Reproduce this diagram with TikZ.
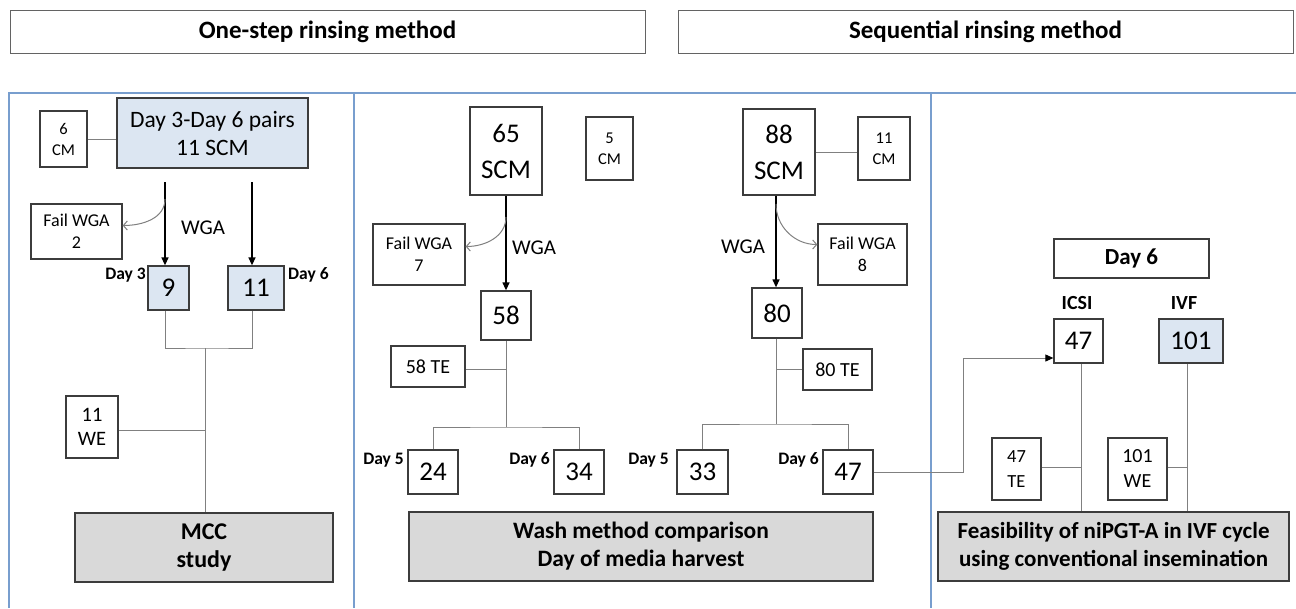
\documentclass[tikz,border=0pt]{standalone}
\usepackage{fontspec}
\setmainfont{Carlito}
\usetikzlibrary{arrows.meta}
\definecolor{panelc}{RGB}{120,158,206}
\definecolor{bluef}{RGB}{220,230,242}
\definecolor{grayf}{RGB}{217,217,217}
\definecolor{boxc}{RGB}{60,60,60}
\definecolor{linec}{RGB}{128,128,128}
\begin{document}
\begin{tikzpicture}[x=1pt,y=-1pt,
  box/.style={draw=boxc,line width=1.3pt,inner sep=0pt,align=center,fill=white},
  sz/.style 2 args={minimum width=#1pt,minimum height=#2pt},
  fs/.style 2 args={font=\fontsize{#1}{#2}\selectfont},
  fb/.style 2 args={font=\fontsize{#1}{#2}\selectfont\bfseries},
  conn/.style={draw=linec,line width=1pt},
  arr/.style={draw=black,line width=1.3pt,-{Triangle[length=8pt,width=7pt]}},
  carr/.style={draw=linec,line width=1pt,-{Straight Barb[length=4pt,width=9pt]}},
  daylbl/.style={fb={17.5}{20},inner sep=1pt},
  panel/.style={draw=panelc,line width=2pt}]
\useasboundingbox (0,0) rectangle (1296,608);
% panels
\draw[panel] (9,608) -- (9,93) -- (1296,93);
\draw[panel] (354,93) -- (354,608);
\draw[panel] (931,93) -- (931,608);
% headers
\node[box,draw=boxc!80,line width=1pt,sz={635}{43},fb={25}{28}] (h1) at (327.5,31.5) {One-step rinsing method};
\node[box,draw=boxc!80,line width=1pt,sz={615}{43},fb={25}{28}] (h2) at (985.5,31.5) {Sequential rinsing method};
% ---------- left panel
\node[box,sz={47}{56},fs={16.5}{21}] (cm6) at (63.5,139) {6\\CM};
\node[box,fill=bluef,sz={191}{70},fs={23.5}{28}] (pairs) at (212.5,133) {Day 3-Day 6 pairs\\11 SCM};
\draw[conn] (cm6.east) -- (cm6.east -| pairs.west);
\node[box,sz={91}{55},fs={18}{22}] (fail2) at (76.5,231.5) {Fail WGA\\2};
\node[box,fill=bluef,sz={41}{44},fs={27}{30}] (b9) at (168.5,288) {9};
\node[box,fill=bluef,sz={56}{44},fs={27}{30}] (b11) at (256,288) {11};
\coordinate (a9) at (165,182);
\coordinate (a11) at (252,182);
\draw[arr] (a9) -- (a9 |- b9.north);
\draw[arr] (a11) -- (a11 |- b11.north);
\coordinate (c2) at (165,199);
\draw[carr] (c2) to[out=-90,in=0] ([yshift=6pt]fail2.east);
\node[daylbl,anchor=east] (d3) at (147,275) {Day 3};
\node[daylbl,anchor=west] (d6a) at (287,275) {Day 6};
\node[fs={21}{24}] (wga1) at (203,228) {WGA};
\coordinate (j1) at (205,348);
\draw[conn] ([xshift=-3.5pt]b9.south) |- (j1) -| ([xshift=-4pt]b11.south);
\node[box,fill=grayf,sz={258}{69},fb={24}{28}] (mcc) at (204,547.5) {MCC\\study};
\draw[conn] (j1) -- (j1 |- mcc.north);
\node[box,sz={52}{62},fs={20.5}{24}] (we11) at (92,427) {11\\WE};
\draw[conn] ([yshift=-3pt]we11.east) -- ([yshift=-3pt]we11.east -| j1);
% ---------- middle panel
\node[box,sz={72}{88},fs={27}{36}] (s65) at (506,151) {65\\SCM};
\node[box,sz={47}{63},fs={16.5}{21}] (cm5) at (609.5,148.5) {5\\CM};
\node[box,sz={92}{61},fs={18}{22}] (fail7) at (419,254.5) {Fail WGA\\7};
\node[box,sz={50}{49},fs={27}{30}] (b58) at (506,315.5) {58};
\draw[arr] (s65.south) -- (b58.north);
\coordinate (c7) at (506,217);
\draw[carr] (c7) to[out=-90,in=0] ([yshift=8pt]fail7.east);
\node[fs={21}{24}] (wga2) at (534,248) {WGA};
\node[box,sz={74}{41},fs={20}{24}] (te58) at (428,366.5) {58 TE};
\coordinate (j2) at (506,427);
\draw[conn] (b58.south) -- (j2);
\draw[conn] ([yshift=-3pt]te58.east) -- ([yshift=-3pt]te58.east -| b58.south);
\node[box,sz={50}{44},fs={27}{30}] (b24) at (433,472) {24};
\node[box,sz={50}{44},fs={27}{30}] (b34) at (579,472) {34};
\draw[conn] (b24.north) |- (j2) -| (b34.north);
\node[daylbl,anchor=east] (d5a) at (405,460) {Day 5};
\node[daylbl,anchor=east] (d6b) at (551,460) {Day 6};
\node[box,sz={72}{86},fs={27}{36}] (s88) at (779,152) {88\\SCM};
\node[box,sz={52}{63},fs={16.5}{21}] (cm11) at (884,148.5) {11\\CM};
\draw[conn] (s88.east) -- (s88.east -| cm11.west);
\node[box,sz={89}{61},fs={18}{22}] (fail8) at (862.5,254.5) {Fail WGA\\8};
\node[box,sz={50}{50},fs={27}{30}] (b80) at (777,313) {80};
\draw[arr] ([xshift=-3pt]s88.south) -- ([xshift=-1pt]b80.north);
\coordinate (c8) at (776,204);
\draw[carr] (c8) to[out=-90,in=180] ([yshift=10pt]fail8.west);
\node[fs={21}{24}] (wga3) at (743,247) {WGA};
\node[box,sz={69}{41},fs={20}{24}] (te80) at (837.5,369.5) {80 TE};
\coordinate (j3) at (776,424);
\draw[conn] ([xshift=-1pt]b80.south) -- (j3);
\draw[conn] (te80.west) -- (te80.west -| j3);
\node[box,sz={51}{44},fs={27}{30}] (b33) at (702.5,472) {33};
\node[box,sz={50}{44},fs={27}{30}] (b47) at (848,472) {47};
\draw[conn] (b33.north) |- (j3) -| (b47.north);
\node[daylbl,anchor=east] (d5b) at (670,460) {Day 5};
\node[daylbl,anchor=east] (d6c) at (820,460) {Day 6};
\node[box,fill=grayf,sz={464}{69},fb={23.5}{28}] (wash) at (641,546.5) {Wash method comparison\\Day of media harvest};
% ---------- right panel
\node[box,sz={155}{39},fb={23}{26}] (day6) at (1131.5,258.5) {Day 6};
\node[fb={20}{22}] (icsi) at (1077,303) {ICSI};
\node[fb={20}{22}] (ivf) at (1184,303) {IVF};
\node[box,sz={49}{44},fs={27}{30}] (i47) at (1078.5,341) {47};
\node[box,fill=bluef,sz={64}{44},fs={27}{30}] (v101) at (1191,341) {101};
\coordinate (k1) at (963,358);
\draw[conn,-{Triangle[length=8pt,width=7pt,color=black]}] (b47.east) -| (k1) -- (k1 -| i47.west);
\node[box,sz={49}{62},fs={18.5}{25}] (te47) at (1016.5,469) {47\\TE};
\node[box,sz={59}{62},fs={20}{25}] (we101) at (1137.5,469) {101\\WE};
\node[box,fill=grayf,sz={351}{69},fb={23}{28}] (feas) at (1113.5,546.5) {Feasibility of niPGT-A in IVF cycle\\using conventional insemination};
\coordinate (v1) at ([xshift=2.5pt]i47.south);
\coordinate (v2) at ([xshift=-4pt]v101.south);
\draw[conn] (v1) -- (v1 |- feas.north);
\draw[conn] (v2) -- (v2 |- feas.north);
\draw[conn] ([yshift=2pt]te47.east) -- ([yshift=2pt]te47.east -| v1);
\draw[conn] ([yshift=2pt]we101.east) -- ([yshift=2pt]we101.east -| v2);
\end{tikzpicture}
\end{document}
